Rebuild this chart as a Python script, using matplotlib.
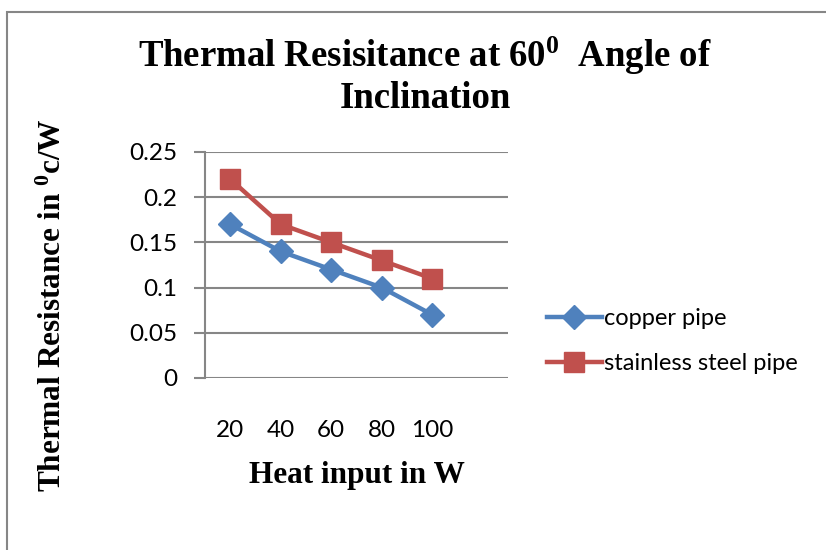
import matplotlib
matplotlib.use("Agg")
import matplotlib.pyplot as plt
from matplotlib.patches import Rectangle

heat_input = ["20", "40", "60", "80", "100"]
copper = [0.17, 0.14, 0.12, 0.10, 0.07]
steel = [0.22, 0.17, 0.15, 0.13, 0.11]
yticks = [0, 0.05, 0.1, 0.15, 0.2, 0.25]
ytick_labels = ["0", "0.05", "0.1", "0.15", "0.2", "0.25"]

plt.rcParams["mathtext.fontset"] = "custom"
plt.rcParams["mathtext.default"] = "regular"

serif = "Liberation Serif"
sans = "Lato"

fig = plt.figure(figsize=(8.26, 5.5), dpi=100)
ax = fig.add_axes([205/826, 1-378/550, 303/826, 226/550])

x = list(range(len(heat_input)))
ax.plot(x, copper, color="#4F81BD", lw=3.2, marker="D", ms=12, label="copper pipe")
ax.plot(x, steel, color="#C0504D", lw=3.2, marker="s", ms=14, label="stainless steel pipe")

ax.set_xlim(-0.5, 5.5)
ax.set_ylim(0, 0.25)
ax.set_yticks(yticks)
ax.set_yticklabels(ytick_labels, fontfamily=sans, fontsize=17.5)
ax.set_xticks(x)
ax.set_xticklabels(heat_input, fontfamily=sans, fontsize=17.5)
ax.tick_params(axis="x", length=0, pad=30)
ax.tick_params(axis="y", length=8, width=1.5, color="#868686", pad=12)
ax.yaxis.grid(True, color="#868686", lw=1.5)
ax.set_axisbelow(True)
for s in ["top", "right", "bottom"]:
    ax.spines[s].set_visible(False)
ax.spines["left"].set_color("#868686")
ax.spines["left"].set_linewidth(1.5)

fig.text(425/826, 1-56/550, "Thermal Resisitance at 60$^{0}$  Angle of",
         ha="center", va="center", family=serif, weight="bold", fontsize=26.5)
fig.text(425/826, 1-98/550, "Inclination",
         ha="center", va="center", family=serif, weight="bold", fontsize=26.5)
fig.text(357/826, 1-476/550, "Heat input in W",
         ha="center", va="center", family=serif, weight="bold", fontsize=22.5)
fig.text(53/826, 1-305/550, "Thermal Resistance in $^{0}$c/W", rotation=90,
         ha="center", va="center", family=serif, weight="bold", fontsize=22.5)

fig.legend(loc="center left", bbox_to_anchor=(526/826, 1-341/550), frameon=False,
           prop={"family": sans, "size": 17}, handlelength=2.3, handletextpad=0.1,
           labelspacing=1.0)

fig.patches.append(Rectangle((6.5/826, -0.1), 2, 1.1 - 12/550, transform=fig.transFigure,
                             fill=False, ec="#868686", lw=1.5))

fig.savefig("out.png", dpi=100)
